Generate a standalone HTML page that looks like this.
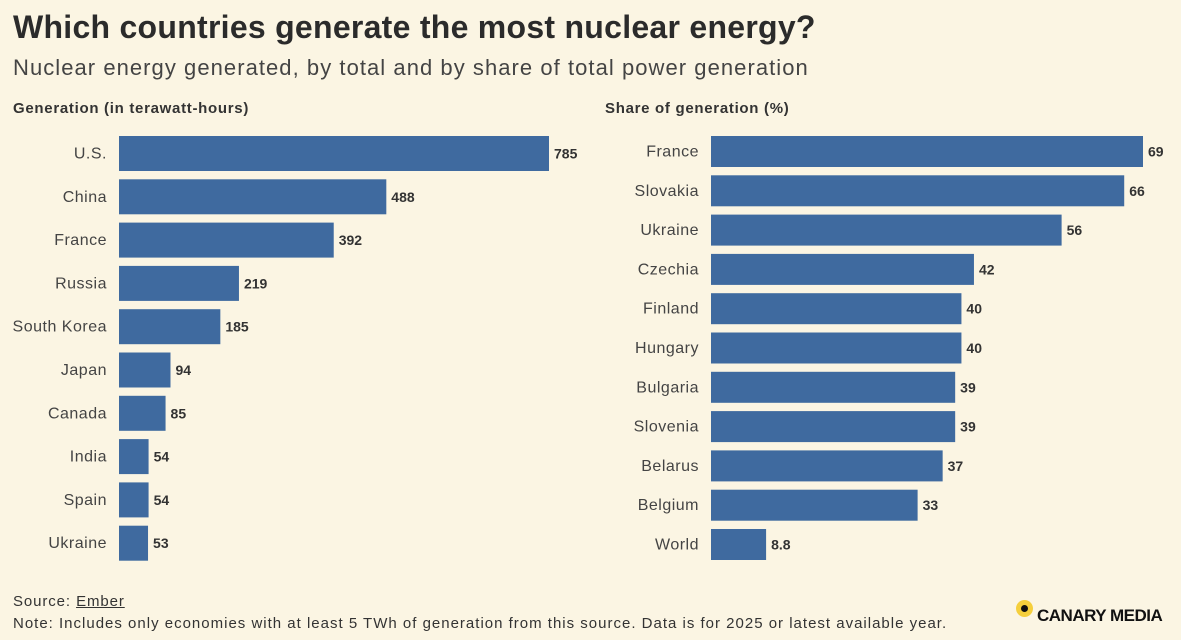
<!DOCTYPE html>
<html><head><meta charset="utf-8">
<style>
body{margin:0;width:1181px;height:640px;background:#fbf5e3;font-family:"Liberation Sans",sans-serif;color:#333;overflow:hidden;position:relative}
.t{position:absolute;white-space:nowrap}
</style></head><body>
<div class="t" style="left:13px;top:9px;font-size:32px;font-weight:bold;color:#2b2b2b;letter-spacing:0.27px">Which countries generate the most nuclear energy?</div>
<div class="t" style="left:13px;top:55px;font-size:22px;color:#444;letter-spacing:1.05px">Nuclear energy generated, by total and by share of total power generation</div>
<div class="t" style="left:13px;top:100px;font-size:15px;font-weight:bold;letter-spacing:0.7px">Generation (in terawatt-hours)</div>
<div class="t" style="left:605px;top:100px;font-size:15px;font-weight:bold;letter-spacing:0.7px">Share of generation (%)</div>
<svg id="c" width="1181" height="640" style="position:absolute;left:0;top:0"></svg>
<div class="t" style="left:13px;top:593px;font-size:15px;letter-spacing:0.9px">Source: <span style="text-decoration:underline">Ember</span></div>
<div class="t" style="left:13px;top:615px;font-size:15px;letter-spacing:1px">Note: Includes only economies with at least 5 TWh of generation from this source. Data is for 2025 or latest available year.</div>
<div style="position:absolute;left:1016px;top:600px;width:17px;height:17px;border-radius:50%;background:#f5cf3c"><div style="position:absolute;left:5px;top:5px;width:7px;height:7px;border-radius:50%;background:#111"></div></div>
<div class="t" style="left:1037px;top:606px;font-size:17px;font-weight:bold;color:#111;letter-spacing:-0.5px">CANARY MEDIA</div>
<script>
const genCountries=["U.S.","China","France","Russia","South Korea","Japan","Canada","India","Spain","Ukraine"];
const genValues=[785,488,392,219,185,94,85,54,54,53];
const shareCountries=["France","Slovakia","Ukraine","Czechia","Finland","Hungary","Bulgaria","Slovenia","Belarus","Belgium","World"];
const shareValues=[69,66,56,42,40,40,39,39,37,33,8.8];
const svg=document.getElementById('c');
const NS="http://www.w3.org/2000/svg";
function draw(cats,vals,x0,pxPer,yTop,step,h,labelRight){
  cats.forEach((c,i)=>{
    const y=yTop+i*step;
    const w=vals[i]*pxPer;
    const r=document.createElementNS(NS,'rect');
    r.setAttribute('x',x0);r.setAttribute('y',y);r.setAttribute('width',w);r.setAttribute('height',h);r.setAttribute('fill','#3f6a9f');
    
    
    svg.appendChild(r);
    const l=document.createElementNS(NS,'text');
    l.setAttribute('x',labelRight);l.setAttribute('y',y+h/2+5);l.setAttribute('text-anchor','end');
    l.setAttribute('font-size','16');l.setAttribute('fill','#444');l.setAttribute('font-family','Liberation Sans, sans-serif');
    l.setAttribute('letter-spacing','0.5');
    l.textContent=c;
    
    
    svg.appendChild(l);
    const v=document.createElementNS(NS,'text');
    v.setAttribute('x',x0+w+5);v.setAttribute('y',y+h/2+5);
    v.setAttribute('font-size','14');v.setAttribute('font-weight','bold');v.setAttribute('fill','#333');v.setAttribute('font-family','Liberation Sans, sans-serif');
    v.textContent=vals[i];
    
    
    svg.appendChild(v);
  });
}
draw(genCountries,genValues,119,430/785,136,43.3,35,107);
draw(shareCountries,shareValues,711,432/69,136,39.3,31,699);
</script>
</body></html>
